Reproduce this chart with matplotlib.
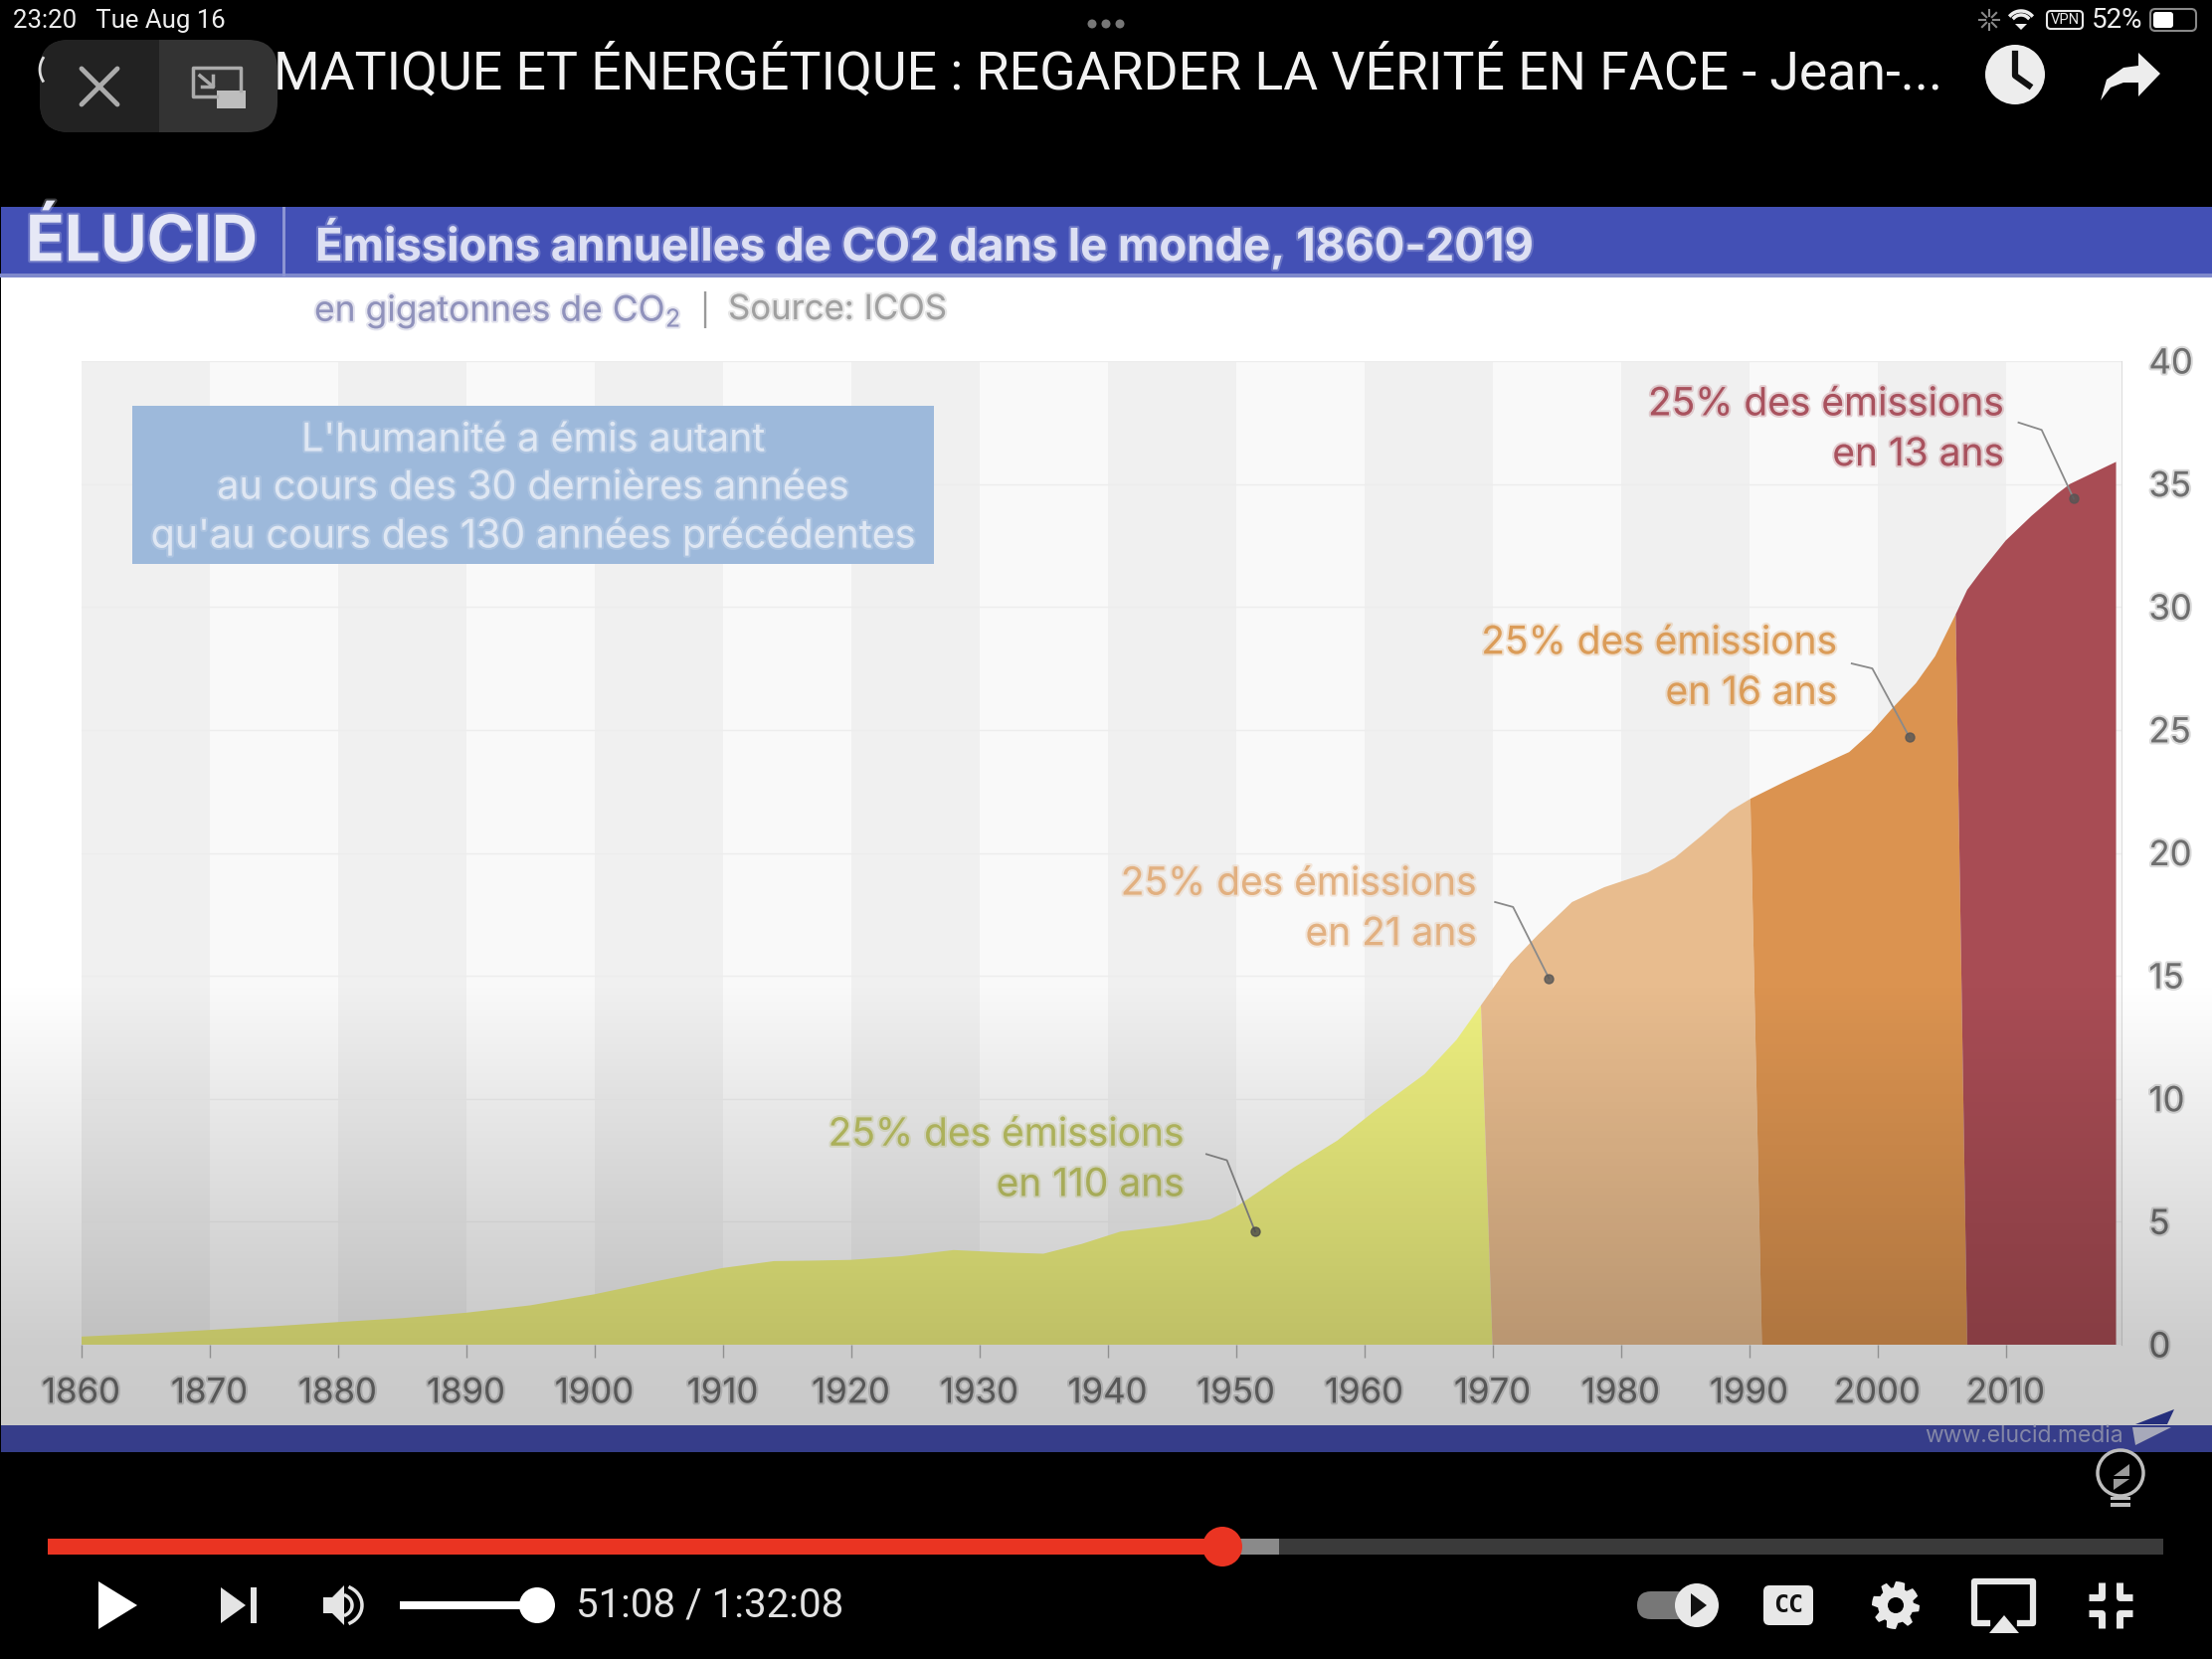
import numpy as np
import matplotlib
matplotlib.use('Agg')
import matplotlib.pyplot as plt
import matplotlib.patheffects as pe
from matplotlib.patches import Rectangle, FancyBboxPatch, Circle, Ellipse, Polygon

plt.rcParams['font.family'] = ['Inter', 'DejaVu Sans']
plt.rcParams['mathtext.default'] = 'regular'

# chart values
tick_years = list(range(1860, 2011, 10))
tick_values = [0, 5, 10, 15, 20, 25, 30, 35, 40]

years_a = [1860, 1865, 1870, 1875, 1880, 1885, 1890, 1895, 1900, 1905, 1910, 1914, 1917, 1920, 1924, 1928, 1932, 1935, 1938,
           1941, 1945, 1948, 1950, 1952, 1954.5, 1957.9, 1960.8, 1964.7, 1967.2, 1969.1]
values_a = [0.33, 0.45, 0.6, 0.75, 0.92, 1.08, 1.3, 1.6, 2.05, 2.6, 3.12, 3.4, 3.42, 3.45, 3.6, 3.85, 3.75, 3.7, 4.1,
            4.6, 4.85, 5.1, 5.6, 6.3, 7.2, 8.3, 9.5, 11.0, 12.4, 13.8]
years_b = [1969.1, 1971.4, 1973.6, 1976.2, 1978.7, 1982.1, 1984.2, 1986.3, 1988.5, 1990.1]
values_b = [13.8, 15.5, 16.7, 18.0, 18.6, 19.2, 19.8, 20.7, 21.7, 22.2]
years_c = [1990.1, 1992.8, 1995.3, 1997.8, 1999.5, 2001.2, 2003, 2004.5, 2006.1]
values_c = [22.2, 22.9, 23.5, 24.1, 24.9, 25.9, 26.9, 28.0, 29.7]
years_d = [2006.1, 2007, 2008, 2010, 2012, 2014, 2015, 2017, 2018.6]
values_d = [29.7, 30.7, 31.4, 32.7, 33.7, 34.6, 35.0, 35.5, 35.9]
base_years = [1860, 1970, 1991, 2007, 2018.6]

segment_colors = ['#EEF080', '#E8BC8E', '#DB9350', '#A84C54']
label_texts = ['25% des émissions\nen 110 ans', '25% des émissions\nen 21 ans',
               '25% des émissions\nen 16 ans', '25% des émissions\nen 13 ans']
label_colors = ['#BCC163', '#E2B080', '#DB9C58', '#A9525E']
label_x = [1946, 1968.8, 1996.9, 2009.9]
label_y = [7.5, 17.7, 27.5, 37.2]
leader_x = [[1947.7, 1949.3, 1951.5], [1970.2, 1971.6, 1974.4], [1998, 1999.6, 2002.5], [2011, 2012.8, 2015.3]]
leader_y = [[7.75, 7.5, 4.6], [18, 17.8, 14.9], [27.7, 27.5, 24.7], [37.5, 37.2, 34.4]]

W, H = 2224, 1668
fig = plt.figure(figsize=(W / 100, H / 100), dpi=100, facecolor='black')


def pixel_axes(z):
    a = fig.add_axes([0, 0, 1, 1], zorder=z)
    a.set_xlim(0, W)
    a.set_ylim(H, 0)
    a.axis('off')
    a.patch.set_alpha(0)
    return a


def soft(color):
    return [pe.withStroke(linewidth=3, foreground=color, alpha=0.25)]


# white panel behind the chart
back = pixel_axes(0)
back.add_patch(Rectangle((1, 208), W, 1252, color='white', lw=0))

# chart
left, right, bottom, top = 81.6, 2132.7, 1352, 363
ax = fig.add_axes([left / W, 1 - bottom / H, (right - left) / W, (bottom - top) / H], zorder=1)
ax.patch.set_alpha(0)
ax.set_xlim(1860, 2019)
ax.set_ylim(0, 40)
for i, y in enumerate(range(1860, 2019, 10)):
    ax.axvspan(y, min(y + 10, 2019), color='#F0F0F0' if i % 2 == 0 else '#F9F9F9', lw=0, zorder=0)
ax.set_yticks(tick_values)
ax.set_xticks(tick_years)
ax.grid(axis='y', color='#EDEDED', lw=1, zorder=1)
ax.set_axisbelow(True)

all_years = [years_a, years_b, years_c, years_d]
all_values = [values_a, values_b, values_c, values_d]
for i in range(4):
    # boundaries lean slightly in the picture, so the foot of a segment is its own year
    ax.fill(all_years[i] + [base_years[i + 1], base_years[i]], all_values[i] + [0, 0],
            color=segment_colors[i], lw=0, zorder=2 + i)

for s in ['top', 'left', 'bottom']:
    ax.spines[s].set_visible(False)
ax.spines['right'].set_color('#DDDDDD')
ax.yaxis.tick_right()
ax.tick_params(axis='y', length=0, pad=20, labelsize=25, labelcolor='#6E6E6E')
ax.tick_params(axis='x', length=9, width=1, color='#B5B5B5', pad=15, labelsize=25, labelcolor='#6E6E6E')
for t in ax.get_xticklabels() + ax.get_yticklabels():
    t.set_path_effects(soft('#6E6E6E'))

for i in range(4):
    ax.text(label_x[i], label_y[i], label_texts[i], color=label_colors[i], ha='right', va='center', fontsize=28,
            linespacing=1.47, path_effects=soft(label_colors[i]), zorder=8)
    ax.plot(leader_x[i], leader_y[i], color='#8A8A8A', lw=1.3, zorder=7)
    ax.plot(leader_x[i][-1], leader_y[i][-1], 'o', color='#555555', ms=6.5, alpha=0.8, zorder=7)

# slide furniture inside the panel
deco = pixel_axes(1.5)
deco.add_patch(Rectangle((1, 208), W, 70, color='#4350B5', lw=0))
deco.add_patch(Rectangle((0, 275), W, 4, color='#7F89CC', lw=0))
deco.add_patch(Rectangle((284, 208), 3, 70, color='#8D95D3', lw=0))
deco.add_patch(Rectangle((1, 1433), W, 27, color='#454FB0', lw=0))
deco.text(26, 245, 'ÉLUCID', color='#E6E8F6', fontsize=46, fontweight='bold', va='center', path_effects=soft('#E6E8F6'))
deco.text(317, 245, 'Émissions annuelles de CO2 dans le monde, 1860-2019', color='#DDE0F3', fontsize=32.7, fontweight='bold',
          va='center', path_effects=soft('#DDE0F3'))
deco.text(316, 313, 'en gigatonnes de CO$_2$', color='#9092BC', fontsize=25.5, va='center', path_effects=soft('#9092BC'))
deco.text(703, 311, '|', color='#9A9A9A', fontsize=22, va='center')
deco.text(732, 312, 'Source: ICOS', color='#A0A0A0', fontsize=25, va='center', path_effects=soft('#A0A0A0'))
deco.add_patch(Rectangle((133, 408), 806, 159, color='#9DB9DB', lw=0))
for yy, line in zip([443, 491, 539], ["L'humanité a émis autant", 'au cours des 30 dernières années',
                                      "qu'au cours des 130 années précédentes"]):
    deco.text(536, yy, line, color='#DFE7F3', fontsize=28.4, ha='center', va='center', path_effects=soft('#DFE7F3'))
deco.text(2135, 1444, 'www.elucid.media', color='#A9ADD6', fontsize=16.5, ha='right', va='center')
deco.add_patch(Polygon([(2147, 1432), (2186, 1417), (2179, 1432)], color='#2F3C9E', lw=0))
deco.add_patch(Polygon([(2144, 1435), (2183, 1435), (2147, 1453)], color='#D5D8EE', lw=0))

# darkening towards the bottom of the slide
shade = pixel_axes(2)
ramp = np.zeros((256, 1, 4))
ramp[:, 0, 3] = np.interp(np.linspace(985, 1460, 256), [985, 1352, 1433, 1460], [0, 0.2, 0.215, 0.22])
shade.imshow(ramp, extent=[1, W, 1460, 985], aspect='auto', zorder=1)
shade.set_xlim(0, W)
shade.set_ylim(H, 0)

# player ui on top
ui = pixel_axes(3)
ui.text(13, 21, '23:20   Tue Aug 16', color='#EEEEEE', fontsize=18.5, family='Roboto', va='center')
for x in [1098, 1112, 1126]:
    ui.add_patch(Circle((x, 24), 4.5, color='#777777', lw=0))
ui.text(275, 73, 'MATIQUE ET ÉNERGÉTIQUE : REGARDER LA VÉRITÉ EN FACE - Jean-...', color='#F2F2F2', fontsize=38.6,
        family='Roboto', va='center')

# pip control
t = np.linspace(2.6, 3.7, 12)
ui.plot(62 + 22 * np.cos(t), 70 + 22 * np.sin(t), color='#DDDDDD', lw=2)
ui.add_patch(FancyBboxPatch((40, 40), 239, 93, boxstyle='round,pad=0,rounding_size=30', color='#333333', lw=0))
lpart = FancyBboxPatch((40, 40), 239, 93, boxstyle='round,pad=0,rounding_size=30', color='#222222', lw=0)
ui.add_patch(lpart)
lpart.set_clip_path(Rectangle((40, 30), 120, 110, transform=ui.transData))
ui.plot([82, 118], [69, 105], color='#ABABAB', lw=3.5, solid_capstyle='round')
ui.plot([82, 118], [105, 69], color='#ABABAB', lw=3.5, solid_capstyle='round')
ui.plot([218, 194, 194, 242, 242], [97, 97, 68, 68, 91], color='#ABABAB', lw=2.5)
ui.add_patch(Rectangle((218, 91), 29, 18, color='#BDBDBD', lw=0))
ui.plot([201, 214], [76, 87], color='#ABABAB', lw=2.5)
ui.plot([214, 214, 203], [76, 87, 87], color='#ABABAB', lw=2.5)

# status bar right
for a in np.linspace(0, 2 * np.pi, 8, endpoint=False):
    ui.plot([2000 + 4 * np.cos(a), 2000 + 10 * np.cos(a)], [20 + 4 * np.sin(a), 20 + 10 * np.sin(a)], color='#888888', lw=1.5)
ui.add_patch(Polygon([(2032, 30), (2026, 24), (2038, 24)], color='#EEEEEE', lw=0))
t = np.linspace(np.pi * 1.25, np.pi * 1.75, 20)
ui.plot(2032 + 10 * np.cos(t), 25 + 10 * np.sin(t), color='#EEEEEE', lw=2.5)
ui.plot(2032 + 15 * np.cos(t), 26 + 15 * np.sin(t), color='#EEEEEE', lw=2.5)
ui.add_patch(FancyBboxPatch((2058, 11), 36, 18, boxstyle='round,pad=0,rounding_size=4', fill=False, ec='#E8E8E8', lw=1.5))
ui.text(2076, 20, 'VPN', color='#E8E8E8', fontsize=10.5, family='Roboto', ha='center', va='center')
ui.text(2103, 20, '52%', color='#EEEEEE', fontsize=20, family='Roboto', va='center')
ui.add_patch(FancyBboxPatch((2162, 9), 46, 22, boxstyle='round,pad=0,rounding_size=5', fill=False, ec='#888888', lw=1.5))
ui.add_patch(FancyBboxPatch((2165, 12), 20, 16, boxstyle='round,pad=0,rounding_size=3', color='white', lw=0))

# clock and share
ui.add_patch(Circle((2026, 75), 30, color='#EDEDED', lw=0))
ui.plot([2026, 2026, 2040], [54, 76, 86], color='#111111', lw=4.5)
ui.add_patch(Polygon([(2112, 101), (2118, 80), (2135, 68), (2150, 66), (2150, 53), (2172, 74), (2150, 97), (2150, 83),
                      (2135, 83), (2122, 88)], color='#EDEDED', lw=0))

# progress bar
ui.add_patch(Rectangle((48, 1547), 2127, 16, color='#3A3A3A', lw=0))
ui.add_patch(Rectangle((1229, 1547), 57, 16, color='#8A8A8A', lw=0))
ui.add_patch(Rectangle((48, 1547), 1181, 16, color='#EA3422', lw=0))
ui.add_patch(Circle((1229, 1555), 20, color='#EA3422', lw=0))

# controls left
ui.add_patch(Polygon([(99, 1590), (138, 1614), (99, 1638)], color='white', lw=0))
ui.add_patch(Polygon([(222, 1596), (247, 1614), (222, 1632)], color='#E4E4E4', lw=0))
ui.add_patch(Rectangle((252, 1596), 6, 36, color='#E4E4E4', lw=0))
ui.add_patch(Polygon([(325, 1606), (334, 1606), (346, 1594), (346, 1634), (334, 1622), (325, 1622)], color='#E4E4E4', lw=0))
t = np.linspace(-1.1, 1.1, 20)
ui.plot(342 + 22 * np.cos(t), 1614 + 20 * np.sin(t), color='#E4E4E4', lw=2.5)
ui.plot(342 + 12 * np.cos(t), 1614 + 11 * np.sin(t), color='#E4E4E4', lw=2.5)
ui.add_patch(Rectangle((402, 1610), 138, 8, color='white', lw=0))
ui.add_patch(Circle((540, 1614), 18, color='white', lw=0))
ui.text(579, 1614, '51:08 / 1:32:08', color='#E2E2E2', fontsize=29, family='Roboto', va='center')

# controls right
ui.add_patch(FancyBboxPatch((1646, 1600), 54, 28, boxstyle='round,pad=0,rounding_size=14', color='#777777', lw=0))
ui.add_patch(Circle((1706, 1614), 22, color='#E8E8E8', lw=0))
ui.add_patch(Polygon([(1700, 1602), (1716, 1614), (1700, 1626)], color='#111111', lw=0))
ui.add_patch(FancyBboxPatch((1773, 1594), 50, 40, boxstyle='round,pad=0,rounding_size=6', color='#E8E8E8', lw=0))
ui.text(1798, 1614, 'CC', color='#111111', fontsize=18, fontweight='bold', family='DejaVu Sans Mono', ha='center', va='center')
ang = np.linspace(0, 2 * np.pi, 48, endpoint=False)
rad = np.where((ang * 8 / (2 * np.pi)) % 1 < 0.5, 24, 18)
ui.add_patch(Polygon(np.c_[1906 + rad * np.cos(ang), 1614 + rad * np.sin(ang)], color='#E8E8E8', lw=0))
ui.add_patch(Circle((1906, 1614), 8, color='black', lw=0))
ui.plot([1998, 1985, 1985, 2044, 2044, 2031], [1632, 1632, 1590, 1590, 1632, 1632], color='#E8E8E8', lw=4.5, solid_joinstyle='round')
ui.add_patch(Polygon([(2000, 1642), (2015, 1624), (2030, 1642)], color='#E8E8E8', lw=0))
for sx, sy in [(-1, -1), (1, -1), (-1, 1), (1, 1)]:
    ui.plot([2122 + sx * 9, 2122 + sx * 9, 2122 + sx * 22], [1614 + sy * 23, 1614 + sy * 8, 1614 + sy * 8], color='#E8E8E8', lw=5, solid_capstyle='butt')

# light bulb
ui.add_patch(Ellipse((2132, 1481), 46, 46, fill=False, ec='#BDBDBD', lw=2.5))
ui.add_patch(Polygon([(2125, 1484), (2141, 1472), (2141, 1484)], color='#9A9A9A', lw=0))
ui.add_patch(Polygon([(2125, 1487), (2141, 1487), (2125, 1498)], color='#9A9A9A', lw=0))
ui.add_patch(Rectangle((2122, 1505), 20, 3, color='#BDBDBD', lw=0))
ui.add_patch(Rectangle((2122, 1511), 20, 4, color='#BDBDBD', lw=0))

fig.savefig('out.png', dpi=100, facecolor='black')
